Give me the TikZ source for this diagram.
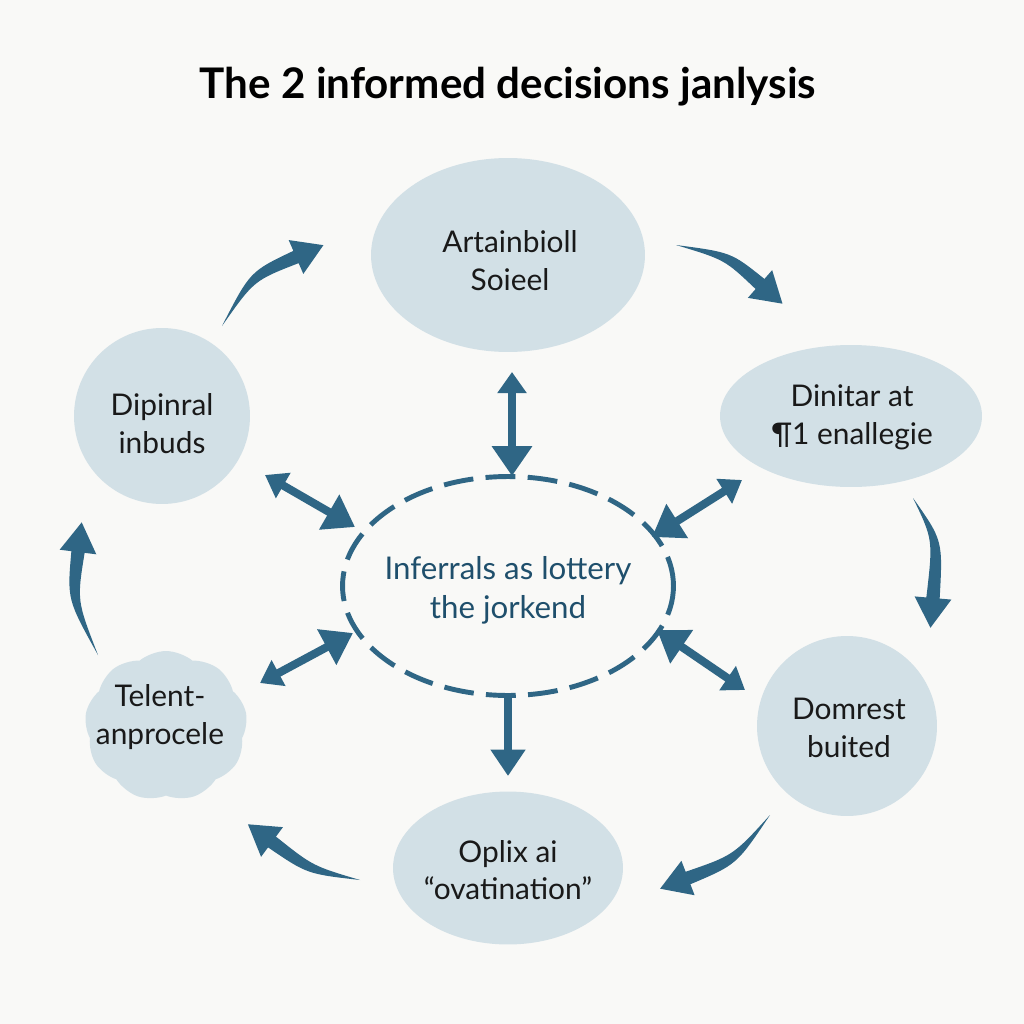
\documentclass[tikz,border=0pt]{standalone}
\usepackage{fontspec}
\setmainfont{Lato}
\usetikzlibrary{shapes.geometric,shapes.symbols,arrows.meta,calc}
\definecolor{bgc}{HTML}{F9F9F7}
\definecolor{nodefill}{HTML}{D2E0E6}
\definecolor{arrowc}{HTML}{2F6685}
\definecolor{centertext}{HTML}{1F4F6C}
\tikzset{
  blob/.style={fill=nodefill, draw=none, inner sep=0pt},
  lbl/.style={align=center, font=\fontsize{17}{21.5}\selectfont, text=black!90},
  dbl/.style={draw=arrowc, line width=4.6pt, {Triangle[length=12pt,width=16pt]}-{Triangle[length=17pt,width=22pt]}},
  sgl/.style={draw=arrowc, line width=4.6pt, -{Triangle[length=15pt,width=19pt]}},
}
% tapered curved arrow: tail, control, head base
\newcommand{\tarrow}[3]{%
  \fill[arrowc] (#1) .. controls ($(#2)!2.8pt!90:(#3)$) .. ($(#3)!3.8pt!-90:(#2)$)
    -- ($(#3)!10.5pt!-90:(#2)$) -- ($(#3)!-17pt!(#2)$) -- ($(#3)!10.5pt!90:(#2)$)
    -- ($(#3)!3.8pt!90:(#2)$) .. controls ($(#2)!2.8pt!-90:(#3)$) .. (#1) -- cycle;}
\begin{document}
\begin{tikzpicture}[x=0.02cm,y=-0.02cm]
\fill[bgc] (0,0) rectangle (1024,1024);
\useasboundingbox (0,0) rectangle (1024,1024);

\node (title) at (508,87) {\fontsize{24}{28}\selectfont\bfseries The 2 informed decisions janlysis};

% outer shapes
\node[blob, ellipse, minimum width=5.48cm, minimum height=3.88cm] (top) at (508,255) {};
\node[blob, ellipse, minimum width=5.24cm, minimum height=2.84cm] (right) at (851,416) {};
\node[blob, circle, minimum size=3.6cm] (bright) at (847,726) {};
\node[blob, ellipse, minimum width=4.6cm, minimum height=3.06cm] (bottom) at (508,868) {};
\node[blob, cloud, cloud puffs=9, cloud puff arc=80, aspect=1.05, minimum width=3.25cm, minimum height=3.0cm] (bleft) at (166,726) {};
\node[blob, circle, minimum size=3.52cm] (left) at (162,416) {};
\node[draw=arrowc, line width=2.8pt, dash pattern=on 17pt off 7pt, ellipse, minimum width=6.62cm, minimum height=4.38cm, fill=none] (center) at (508,586) {};

% labels
\node[lbl] (ttop) at (510,261) {Artainbioll\\Soieel};
\node[lbl] (tright) at (852,417) {Dinitar at\\¶1 enallegie};
\node[lbl] (tbright) at (849,728) {Domrest\\buited};
\node[lbl] (tbottom) at (508,870) {Oplix ai\\“ovatination”};
\node[lbl] (tbleft) at (160,717) {Telent-\\anprocele};
\node[lbl] (tleft) at (162,424) {Dipinral\\inbuds};
\node[lbl, text=centertext, font=\fontsize{17.8}{22}\selectfont] (tcenter) at (508,590) {Inferrals as lottery\\the jorkend};

% curved outer arrows
\coordinate (a1t) at (222,326); \coordinate (a1c) at (252,276); \coordinate (a1h) at (296,257);
\coordinate (a2t) at (676,245); \coordinate (a2c) at (728,256); \coordinate (a2h) at (760,284);
\coordinate (a3t) at (913,498); \coordinate (a3c) at (938,540); \coordinate (a3h) at (933,598);
\coordinate (a4t) at (770,815); \coordinate (a4c) at (735,860); \coordinate (a4h) at (688,878);
\coordinate (a5t) at (360,880); \coordinate (a5c) at (310,870); \coordinate (a5h) at (272,842);
\coordinate (a6t) at (98,655);  \coordinate (a6c) at (72,600);  \coordinate (a6h) at (78,552);
\tarrow{a1t}{a1c}{a1h}
\tarrow{a2t}{a2c}{a2h}
\tarrow{a3t}{a3c}{a3h}
\tarrow{a4t}{a4c}{a4h}
\tarrow{a5t}{a5c}{a5h}
\tarrow{a6t}{a6c}{a6h}

% radial arrows
\coordinate (r1o) at (512,372); \coordinate (r1i) at (512,476);
\coordinate (r2o) at (265,475); \coordinate (r2i) at (355,527);
\coordinate (r3o) at (742,480); \coordinate (r3i) at (652,537);
\coordinate (r4o) at (260,683); \coordinate (r4i) at (353,633);
\coordinate (r5o) at (745,690); \coordinate (r5i) at (657,630);
\coordinate (r6i) at (508,693); \coordinate (r6o) at (508,776);
\draw[dbl] (r1o) -- (r1i);
\draw[dbl] (r2o) -- (r2i);
\draw[dbl] (r3o) -- (r3i);
\draw[dbl] (r4o) -- (r4i);
\draw[dbl] (r5o) -- (r5i);
\draw[sgl] (r6i) -- (r6o);
\end{tikzpicture}
\end{document}
